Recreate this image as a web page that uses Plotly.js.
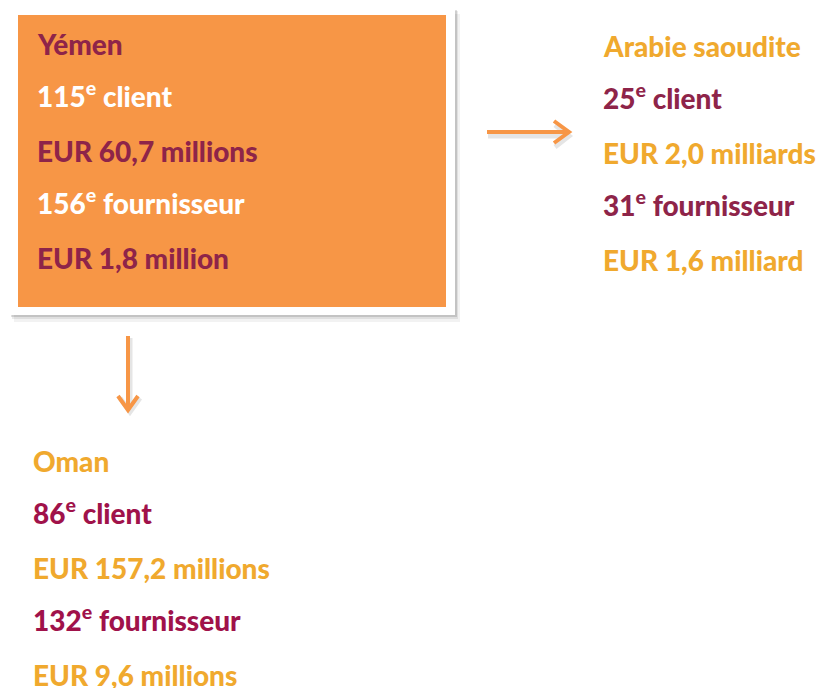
<!DOCTYPE html>
<html><head><meta charset="utf-8">
<script src="https://cdn.plot.ly/plotly-3.0.1.min.js"></script>
<style>html,body{margin:0;padding:0;background:#fff}#chart{width:820px;height:688px}</style>
</head><body><div id="chart"></div>
<script>
const countries = ["Yémen", "Arabie saoudite", "Oman"];
const clientRanks = [115, 25, 86];
const exportValues = ["EUR 60,7 millions", "EUR 2,0 milliards", "EUR 157,2 millions"];
const supplierRanks = [156, 31, 132];
const importValues = ["EUR 1,8 million", "EUR 1,6 milliard", "EUR 9,6 millions"];

const MAROON = "#8E2449", GOLD = "#F0A92E", ROSE = "#A0124A", ORANGE = "#F79646";
const blocks = [
  {x: 35, y0: 44, colors: [MAROON, "#FFFFFF", MAROON, "#FFFFFF", MAROON]},
  {x: 601, y0: 46, colors: [GOLD, MAROON, GOLD, MAROON, GOLD]},
  {x: 31, y0: 461, colors: [GOLD, ROSE, GOLD, ROSE, GOLD]}
];
const step = 53.6;
const FONT = "Lato, 'Open Sans', sans-serif";
const annotations = [];
countries.forEach((c, i) => {
  const lines = [
    c,
    clientRanks[i] + "<sup>e</sup> client",
    exportValues[i],
    supplierRanks[i] + "<sup>e</sup> fournisseur",
    importValues[i]
  ];
  lines.forEach((t, k) => {
    const supShift = (k === 1 || k === 3) ? -3 : 0;
    annotations.push({
      x: blocks[i].x, y: blocks[i].y0 + k * step + supShift, xref: "x", yref: "y",
      text: t, showarrow: false, xanchor: "left", yanchor: "middle",
      font: {family: FONT, size: 28, weight: 900, color: blocks[i].colors[k]}
    });
  });
});

const shapes = [
  {type: "rect", x0: 14, y0: 14, x1: 460, y1: 322, fillcolor: "rgba(0,0,0,0.05)", line: {width: 0}},
  {type: "rect", x0: 12, y0: 11, x1: 458, y1: 319, fillcolor: "rgba(0,0,0,0.08)", line: {width: 0}},
  {type: "rect", x0: 11, y0: 10, x1: 457, y1: 317, fillcolor: "rgba(0,0,0,0.12)", line: {width: 0}},
  {type: "rect", x0: 10, y0: 8, x1: 455, y1: 315, fillcolor: "#FFFFFF", line: {width: 0}},
  {type: "rect", x0: 18, y0: 15, x1: 446, y1: 307, fillcolor: ORANGE, line: {width: 0}},
  {type: "path", path: "M 488 136 L 568 136 M 555 125 L 569 136 L 555 147", line: {color: "rgba(0,0,0,0.10)", width: 5}},
  {type: "path", path: "M 130 338 L 130 410 M 120 398 L 130 412 L 140 398", line: {color: "rgba(0,0,0,0.10)", width: 5}},
  {type: "path", path: "M 487 132 L 567 132 M 554 121 L 569 132 L 554 143", line: {color: ORANGE, width: 4}},
  {type: "path", path: "M 128 336 L 128 408 M 118 396 L 128 410 L 138 396", line: {color: ORANGE, width: 4}}
];

const layout = {
  width: 820, height: 688,
  margin: {l: 0, r: 0, t: 0, b: 0},
  paper_bgcolor: "#FFFFFF", plot_bgcolor: "#FFFFFF",
  xaxis: {range: [0, 820], visible: false, fixedrange: true},
  yaxis: {range: [688, 0], visible: false, fixedrange: true},
  showlegend: false,
  shapes: shapes,
  annotations: annotations
};
Plotly.newPlot("chart", [{x: [], y: [], type: "scatter"}], layout, {displayModeBar: false, staticPlot: true});
</script></body></html>
